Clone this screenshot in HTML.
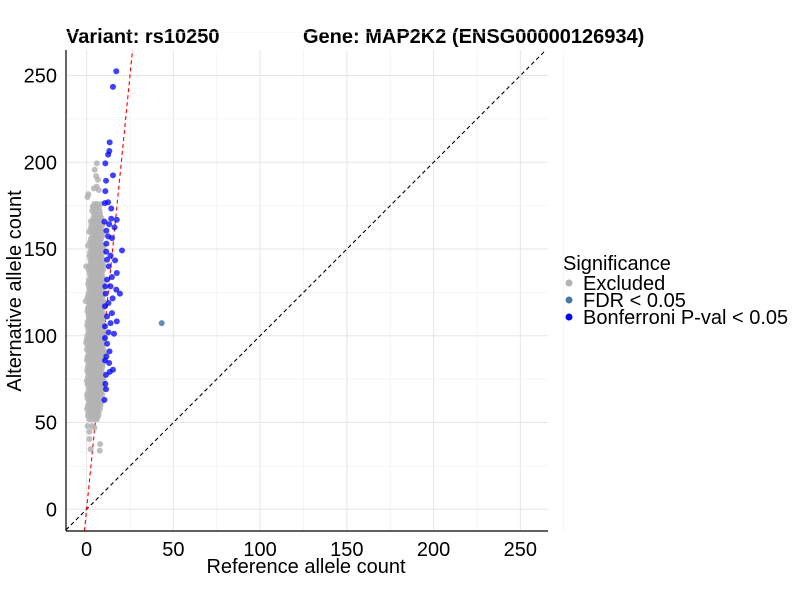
<!DOCTYPE html>
<html><head><meta charset="utf-8"><style>
body{margin:0;background:#fff}
svg{font-family:"Liberation Sans",Arial,sans-serif}
</style></head><body>
<svg id="chart" width="800" height="600">
<text x="66" y="43" font-size="20" font-weight="bold">Variant: rs10250</text>
<text x="303" y="43" font-size="20" font-weight="bold">Gene: MAP2K2 (ENSG00000126934)</text>
<g id="grid"></g>
<g id="lines"></g>
<g id="pts"></g>
<g id="axes"></g>
<text x="306" y="573" font-size="20" text-anchor="middle">Reference allele count</text>
<text transform="translate(21,291) rotate(-90)" font-size="20" text-anchor="middle">Alternative allele count</text>
<g>
<text x="563" y="270" font-size="20">Significance</text>
<g><circle cx="569" cy="283" r="3.5" fill="#b3b3b3"/><text x="583" y="290" font-size="20">Excluded</text></g>
<g><circle cx="569" cy="300" r="3.5" fill="#4b77a9"/><text x="583" y="307" font-size="20">FDR &lt; 0.05</text></g>
<g><circle cx="569" cy="317" r="3.5" fill="#0000ff"/><text x="583" y="324" font-size="20">Bonferroni P-val &lt; 0.05</text></g>
</g>
</svg>
<script>
const xTicks=[0,50,100,150,200,250];
const yTicks=[0,50,100,150,200,250];
const greyRowY=[52,56,60,64,68,72,76,80,84,88,92,96,100,104,108,112,116,120,124,128,132,136,140,144,148,152,156,160,164,168,172,176];
const greyRowX=[[1.5,3,4.5,6],[1,2.5,4,5.5,7],[0.8,2,3.5,5,6.5,8],[0.5,2,3,4.5,6,7.5],[1,2.5,4,5.5,7,8.5],[0.5,1.8,3.2,4.6,6,7.4,9],[0.8,2.2,3.6,5,6.4,7.8,9.5],[0.3,1.7,3,4.4,5.8,7.2,8.6],[1,2.4,3.8,5.2,6.6,8,9.4],[0.5,1.9,3.3,4.7,6.1,7.5,9],[0.2,1.5,2.9,4.3,5.7,7.1,8.5,9.8],[0.8,2.2,3.6,5,6.4,7.8,9.2],[0.4,1.8,3.2,4.6,6,7.4,8.8,10],[0.9,2.3,3.7,5.1,6.5,7.9,9.3],[0.6,2,3.4,4.8,6.2,7.6,9],[1.1,2.5,3.9,5.3,6.7,8.1,9.5],[0.8,2.2,3.6,5,6.4,7.8,9.2],[1.2,2.6,4,5.4,6.8,8.2,9.6],[1,2.4,3.8,5.2,6.6,8,9.4],[1.5,2.9,4.3,5.7,7.1,8.5,9.8],[1.3,2.7,4.1,5.5,6.9,8.3,9.6],[1.8,3.2,4.6,6,7.4,8.8],[1.5,3,4.4,5.8,7.2,8.6,9.8],[2.2,3.6,5,6.4,7.8,9.2],[2,3.5,5,6.5,8,9.5],[2.8,4.2,5.6,7,8.4,9.8],[2.5,4,5.5,7,8.5],[3,4.5,6,7.5,9],[2.8,4.4,6,7.6,9.2],[4,5.5,7,8.5],[3.2,5,7.5],[4.5,6,8.3]];
const greyRowY2=[54,58,62,66,70,74,78,82,86,90,94,98,102,106,110,114,118,122,126,130,134,138,142,146,150,154,158,162,166,170,174];
const greyRowX2=[[0.8,2.3,3.8,5.3,6.8],[0.3,1.7,3.2,4.7,6.2,7.7],[1.3,2.7,4.2,5.7,7.2,8.7],[0.2,1.6,3.1,4.6,6.1,7.6,9],[1.2,2.6,4.1,5.6,7.1,8.6],[0.1,1.5,2.9,4.3,5.7,7.1,8.5,9.8],[1,2.4,3.8,5.2,6.6,8,9.2],[0.7,2.1,3.5,4.9,6.3,7.7,9.1],[0.2,1.6,3,4.4,5.8,7.2,8.6,9.9],[1.1,2.5,3.9,5.3,6.7,8.1,9.5],[0.6,2,3.4,4.8,6.2,7.6,9],[0.1,1.5,2.9,4.3,5.7,7.1,8.5,9.8],[1.1,2.5,3.9,5.3,6.7,8.1,9.6],[0.3,1.6,3,4.4,5.8,7.2,8.6,9.9],[1.3,2.7,4.1,5.5,6.9,8.3,9.7],[0.5,1.8,3.2,4.6,6,7.4,8.8],[1.5,2.9,4.3,5.7,7.1,8.5,9.9],[0.5,1.9,3.3,4.7,6.1,7.5,8.9],[1.7,3.1,4.5,5.9,7.3,8.7],[0.9,2.2,3.6,5,6.4,7.8,9.2],[2.1,3.5,4.9,6.3,7.7,9.1],[1.2,2.5,3.9,5.3,6.7,8.1,9.5],[2.4,3.8,5.2,6.6,8,9.4],[1.6,2.9,4.3,5.7,7.1,8.5],[2.6,4,5.4,6.8,8.2,9.6],[2,3.5,5,6.5,8],[3.3,4.8,6.3,7.8,9.3],[2.4,3.7,5.2,6.8,8.2],[3.5,5,6.6,8],[4.3,6,7.8],[3.9,5.4,7]];
const greyOutX=[1,0.5,5.9,4.7,5.5,6.5,5.8,4.2,3.6,7,2.5,1.5,0.8,-0.2,-0.5,-0.3,10.5,1.6,1.6,2.3,7.8,7.6,5.7,3,4.5,0.6,8.5,9.8];
const greyOutY=[181.6,180,199.4,195.7,192,190,186,185,174.6,184,166,160,152,140,120,96,90,44.7,40.5,34.7,37.6,33.8,53,48,47,48,62,70];
const bonfX=[17.1,15.2,13.3,13.1,12.4,10.8,15.2,11.2,10.8,12.4,10.5,14.2,17.4,14.2,10.3,13,16.1,11.4,12.4,14.6,11.4,20.4,11.3,13.8,16.4,11.8,12.8,17.4,14.6,11.8,10.8,13.8,19.2,17.1,15,11,12.6,10.6,14.6,11.8,17.4,13.8,10.6,15.8,12.6,10.6,11.8,13.2,11.4,13,10.6,15.2,13.3,11.2,10.8,11.2,10.3];
const bonfY=[252.5,243.5,211.5,206.5,204.4,199.4,192.5,189.4,183.4,177,176.5,173.4,166.9,167.5,165.8,164.3,162.5,160.6,157.3,156.3,153.1,149.2,148.5,146.2,143.5,143.9,140,136.2,133.9,132.4,128.5,128.5,124.3,126.6,121.6,124.3,118.9,117,113.1,111.2,108.3,107.3,105.4,101.2,102,98.7,95.4,91,88.1,84.3,85.8,80.4,79.2,77.5,72.3,69.2,63.1];
const fdrX=[43.3];
const fdrY=[107.3];
const redSlope=10;

const NS='http://www.w3.org/2000/svg';
const L=66,R=548,T=50,B=531;
const x0=86.6,kx=1.735,y0=509.3,ky=1.735;
const xs=v=>x0+v*kx, ys=v=>y0-v*ky;
const xmin=(L-x0)/kx,xmax=(R-x0)/kx,ymin=(y0-B)/ky,ymax=(y0-T)/ky;
function mk(tag,attrs,parent){const e=document.createElementNS(NS,tag);for(const k in attrs)e.setAttribute(k,attrs[k]);parent.appendChild(e);return e;}
const grid=document.getElementById('grid'),lines=document.getElementById('lines'),pts=document.getElementById('pts'),axes=document.getElementById('axes');
for(let i=0;i<xTicks.length;i++){
  const v=xTicks[i];
  const g=mk('line',{x1:xs(v),x2:xs(v),y1:T,y2:B,stroke:'#e5e5e5','stroke-width':1},grid);
  
  
  const m=mk('line',{x1:xs(v+25),x2:xs(v+25),y1:T,y2:B,stroke:'#f0f0f0','stroke-width':0.7},grid);
  
  
  const t=mk('text',{x:xs(v),y:556,'font-size':20,'text-anchor':'middle'},axes);t.textContent=v;
  
  
}
for(let i=0;i<yTicks.length;i++){
  const v=yTicks[i];
  const g=mk('line',{x1:L,x2:R,y1:ys(v),y2:ys(v),stroke:'#e5e5e5','stroke-width':1},grid);
  
  
  const m=mk('line',{x1:L,x2:R,y1:ys(v+25),y2:ys(v+25),stroke:'#f0f0f0','stroke-width':0.7},grid);
  
  
  const t=mk('text',{x:57,y:ys(v)+7,'font-size':20,'text-anchor':'end'},axes);t.textContent=v;
  
  
}
const dl=mk('line',{x1:xs(Math.max(xmin,ymin)),y1:ys(Math.max(xmin,ymin)),x2:xs(Math.min(xmax,ymax)),y2:ys(Math.min(xmax,ymax)),stroke:'#000','stroke-width':1.1,'stroke-dasharray':'4,3'},lines);


function pt(x,y,fill,name,op){const c=mk('circle',{cx:xs(x),cy:ys(y),r:3,fill:fill,'fill-opacity':op},pts);
  
  }
for(let i=0;i<greyRowY.length;i++)for(const x of greyRowX[i])pt(x,greyRowY[i],'#b3b3b3','excluded-point',0.85);
for(let i=0;i<greyRowY2.length;i++)for(const x of greyRowX2[i])pt(x,greyRowY2[i],'#b3b3b3','excluded-point',0.85);
for(let i=0;i<greyOutX.length;i++)pt(greyOutX[i],greyOutY[i],'#b3b3b3','excluded-point',0.85);
for(let i=0;i<bonfX.length;i++)pt(bonfX[i],bonfY[i],'#0000ff','bonferroni-point',0.75);
for(let i=0;i<fdrX.length;i++)pt(fdrX[i],fdrY[i],'#4b77a9','fdr-point',0.85);
const rl=mk('line',{x1:xs(ymin/redSlope),y1:ys(ymin),x2:xs(ymax/redSlope),y2:ys(ymax),stroke:'#ff0000','stroke-width':1.1,'stroke-dasharray':'4,3'},lines);


const ax=mk('line',{x1:L,x2:R,y1:B,y2:B,stroke:'#000','stroke-width':1.2},axes);


const ay=mk('line',{x1:L,x2:L,y1:T,y2:B,stroke:'#000','stroke-width':1.2},axes);


</script>
</body></html>
